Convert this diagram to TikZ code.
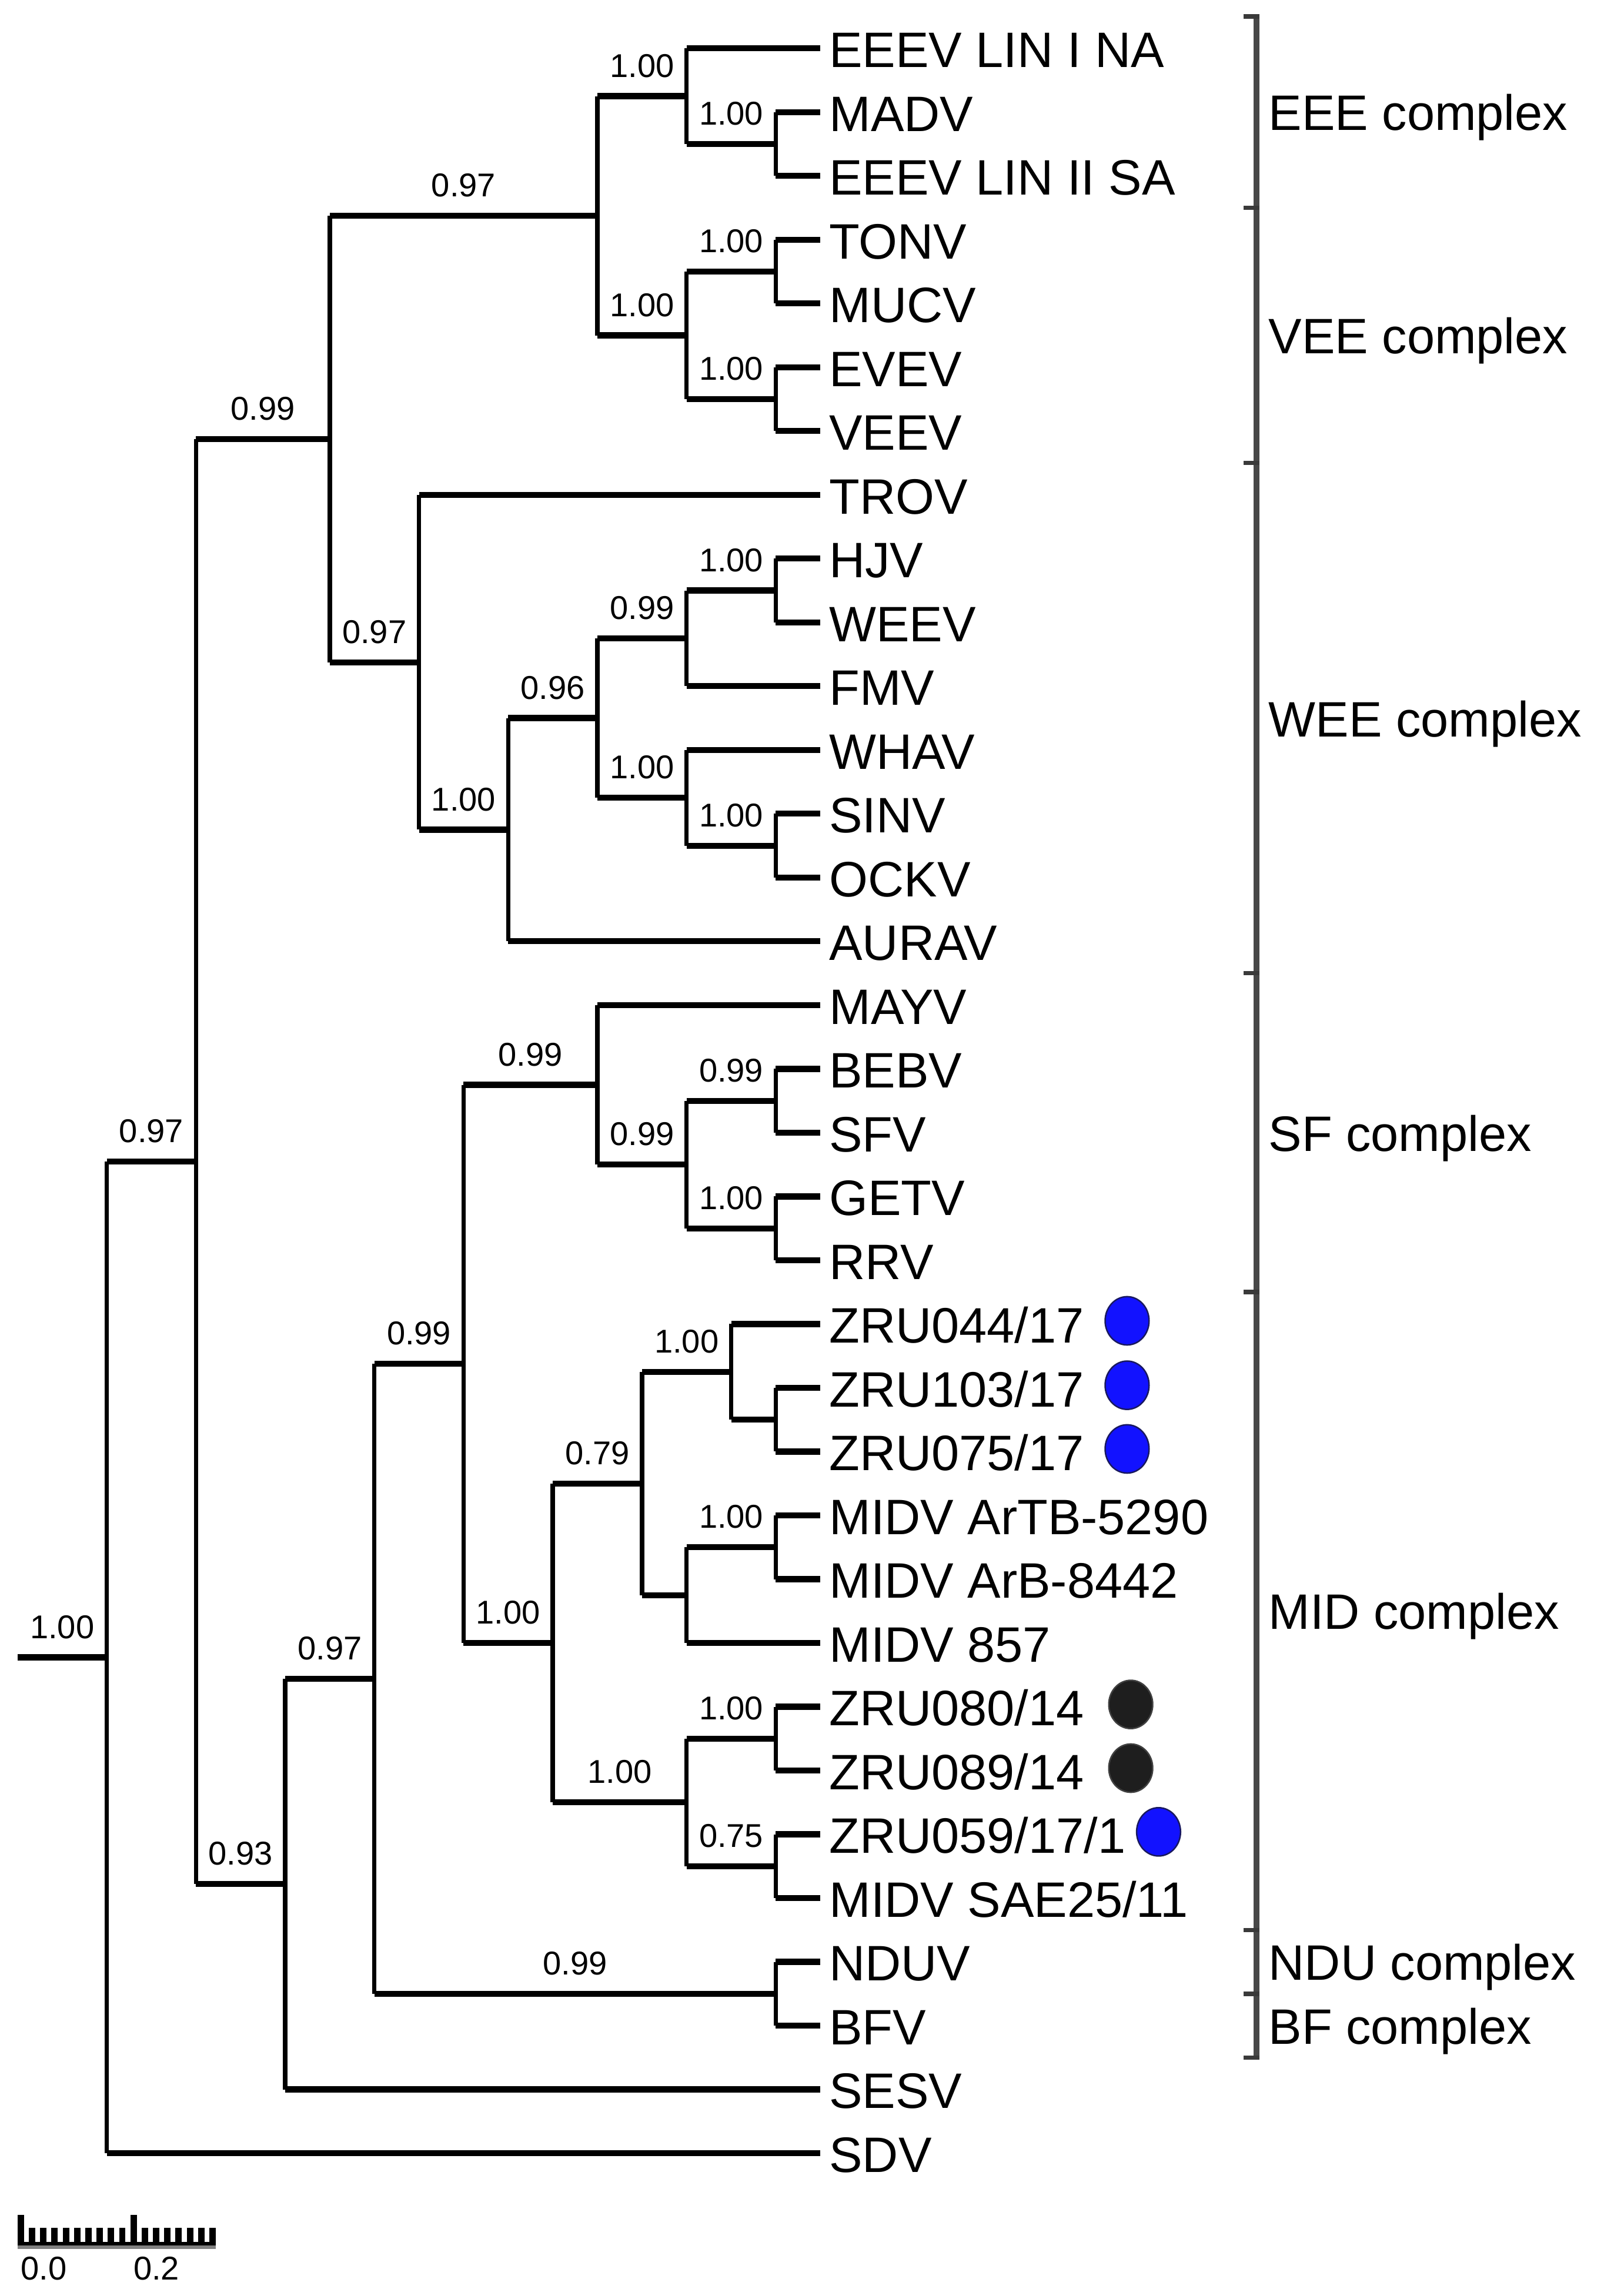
\documentclass[tikz,border=0pt]{standalone}
\usepackage{fontspec}
\setmainfont{Liberation Sans}
\usetikzlibrary{shapes.geometric}
\definecolor{dotblue}{RGB}{18,18,255}
\definecolor{dotedge}{RGB}{25,25,95}
\definecolor{dotblack}{RGB}{30,30,30}
\definecolor{brkgray}{RGB}{72,72,72}
\newcommand\PX[1]{12+30.45*(#1)}
\newcommand\PY[1]{33+43.56*(#1)}
\newcommand\clade[3]{%
  \draw[vl] (#1 |- #2) -- (#1 |- #3);
  \draw[hl] (#1 |- #2) -- (#2);
  \draw[hl] (#1 |- #3) -- (#3);}
\newcommand\inode[3]{\coordinate (#1) at ({\PX{#2}},{\PY{#3}});}
\newcommand\slab[4]{\node[suplab] (#1) at ({\PX{#2}},{\PY{#3}-13}) {#4};}
\newcommand\leafnode[2]{%
  \node[leaf] (L#1) at (566,{\PY{#1}+13}) {#2};
  \coordinate (t#1) at ({\PX{18}},{\PY{#1}});}
\tikzset{
  hl/.style={line width=4.1pt, black},
  vl/.style={line width=3.0pt, black, line cap=square},
  leaf/.style={anchor=base west, inner sep=0pt, font=\fontsize{34}{40}\selectfont},
  cplx/.style={anchor=base west, inner sep=0pt, font=\fontsize{34}{40}\selectfont},
  suplab/.style={anchor=base, inner sep=0pt, font=\fontsize{22.5}{27}\selectfont},
  brk/.style={line width=4pt, brkgray},
  brktick/.style={line width=3pt, brkgray!80!black},
  bdot/.style={ellipse, draw=dotedge, fill=dotblue, line width=1pt, minimum width=30pt, minimum height=33pt, inner sep=0pt},
  kdot/.style={ellipse, draw=black!75, fill=dotblack, line width=1pt, minimum width=30pt, minimum height=33pt, inner sep=0pt},
}
\begin{document}
\begin{tikzpicture}[x=1pt,y=-1pt]
\useasboundingbox (0,0) rectangle (1095,1568);
\fill[white] (0,0) rectangle (1095,1568);

% leaves
\leafnode{0}{EEEV LIN I NA}
\leafnode{1}{MADV}
\leafnode{2}{EEEV LIN II SA}
\leafnode{3}{TONV}
\leafnode{4}{MUCV}
\leafnode{5}{EVEV}
\leafnode{6}{VEEV}
\leafnode{7}{TROV}
\leafnode{8}{HJV}
\leafnode{9}{WEEV}
\leafnode{10}{FMV}
\leafnode{11}{WHAV}
\leafnode{12}{SINV}
\leafnode{13}{OCKV}
\leafnode{14}{AURAV}
\leafnode{15}{MAYV}
\leafnode{16}{BEBV}
\leafnode{17}{SFV}
\leafnode{18}{GETV}
\leafnode{19}{RRV}
\leafnode{20}{ZRU044/17}
\leafnode{21}{ZRU103/17}
\leafnode{22}{ZRU075/17}
\leafnode{23}{MIDV ArTB-5290}
\leafnode{24}{MIDV ArB-8442}
\leafnode{25}{MIDV 857}
\leafnode{26}{ZRU080/14}
\leafnode{27}{ZRU089/14}
\leafnode{28}{ZRU059/17/1}
\leafnode{29}{MIDV SAE25/11}
\leafnode{30}{NDUV}
\leafnode{31}{BFV}
\leafnode{32}{SESV}
\leafnode{33}{SDV}

% internal nodes
\inode{r}{2}{25.2265625}
\inode{r0}{0}{25.2265625}
\inode{n1}{4}{17.453125}
\inode{n2}{7}{6.125}
\inode{n4}{13}{2.625}
\inode{n6}{15}{0.75}
\inode{n8}{17}{1.5}
\inode{n7}{15}{4.5}
\inode{n9}{17}{3.5}
\inode{n10}{17}{5.5}
\inode{n5}{9}{9.625}
\inode{n11}{11}{12.25}
\inode{n12}{13}{10.5}
\inode{n13}{15}{9.25}
\inode{n15}{17}{8.5}
\inode{n14}{15}{11.75}
\inode{n16}{17}{12.5}
\inode{n3}{6}{28.78125}
\inode{n17}{8}{25.5625}
\inode{n19}{17}{30.5}
\inode{n18}{10}{20.625}
\inode{n20}{13}{16.25}
\inode{n22}{15}{17.5}
\inode{n23}{17}{16.5}
\inode{n24}{17}{18.5}
\inode{n21}{12}{25}
\inode{n25}{14}{22.5}
\inode{n27}{16}{20.75}
\inode{n29}{17}{21.5}
\inode{n28}{15}{24.25}
\inode{n30}{17}{23.5}
\inode{n26}{15}{27.5}
\inode{n31}{17}{26.5}
\inode{n32}{17}{28.5}

% branches
\draw[hl] (r0) -- (r);
\clade{r}{n1}{t33}
\clade{n1}{n2}{n3}
\clade{n2}{n4}{n5}
\clade{n4}{n6}{n7}
\clade{n6}{t0}{n8}
\clade{n8}{t1}{t2}
\clade{n7}{n9}{n10}
\clade{n9}{t3}{t4}
\clade{n10}{t5}{t6}
\clade{n5}{t7}{n11}
\clade{n11}{n12}{t14}
\clade{n12}{n13}{n14}
\clade{n13}{n15}{t10}
\clade{n15}{t8}{t9}
\clade{n14}{t11}{n16}
\clade{n16}{t12}{t13}
\clade{n3}{n17}{t32}
\clade{n17}{n18}{n19}
\clade{n19}{t30}{t31}
\clade{n18}{n20}{n21}
\clade{n20}{t15}{n22}
\clade{n22}{n23}{n24}
\clade{n23}{t16}{t17}
\clade{n24}{t18}{t19}
\clade{n21}{n25}{n26}
\clade{n25}{n27}{n28}
\clade{n27}{t20}{n29}
\clade{n29}{t21}{t22}
\clade{n28}{n30}{t25}
\clade{n30}{t23}{t24}
\clade{n26}{n31}{n32}
\clade{n31}{t26}{t27}
\clade{n32}{t28}{t29}

% support values
\slab{sr}{1}{25.2265625}{1.00}
\slab{s1}{3}{17.453125}{0.97}
\slab{s2}{5.5}{6.125}{0.99}
\slab{s4}{10}{2.625}{0.97}
\slab{s6}{14}{0.75}{1.00}
\slab{s8}{16}{1.5}{1.00}
\slab{s7}{14}{4.5}{1.00}
\slab{s9}{16}{3.5}{1.00}
\slab{s10}{16}{5.5}{1.00}
\slab{s5}{8}{9.625}{0.97}
\slab{s11}{10}{12.25}{1.00}
\slab{s12}{12}{10.5}{0.96}
\slab{s13}{14}{9.25}{0.99}
\slab{s15}{16}{8.5}{1.00}
\slab{s14}{14}{11.75}{1.00}
\slab{s16}{16}{12.5}{1.00}
\slab{s3}{5}{28.78125}{0.93}
\slab{s17}{7}{25.5625}{0.97}
\slab{s19}{12.5}{30.5}{0.99}
\slab{s18}{9}{20.625}{0.99}
\slab{s20}{11.5}{16.25}{0.99}
\slab{s22}{14}{17.5}{0.99}
\slab{s23}{16}{16.5}{0.99}
\slab{s24}{16}{18.5}{1.00}
\slab{s21}{11}{25}{1.00}
\slab{s25}{13}{22.5}{0.79}
\slab{s27}{15}{20.75}{1.00}
\slab{s30}{16}{23.5}{1.00}
\slab{s26}{13.5}{27.5}{1.00}
\slab{s31}{16}{26.5}{1.00}
\slab{s32}{16}{28.5}{0.75}

% sample dots
\node[bdot] (d1) at (769.5,902) {};
\node[bdot] (d2) at (769.5,946) {};
\node[bdot] (d3) at (769.5,989.5) {};
\node[kdot] (d4) at (772,1164) {};
\node[kdot] (d5) at (772,1207.5) {};
\node[bdot] (d6) at (791,1251) {};

% complex brackets
\draw[brk] (858,11.2) -- (858,1405.1);
\foreach \yy in {11.2,141.9,316.1,664.6,882.4,1318,1361.6,1405.1}
  \draw[brktick] (849,\yy) -- (860,\yy);
\node[cplx] (cEEE) at (866,89) {EEE complex};
\node[cplx] (cVEE) at (866,241.5) {VEE complex};
\node[cplx] (cWEE) at (866,503) {WEE complex};
\node[cplx] (cSF) at (866,786) {SF complex};
\node[cplx] (cMID) at (866,1112.7) {MID complex};
\node[cplx] (cNDU) at (866,1352.3) {NDU complex};
\node[cplx] (cBF) at (866,1395.9) {BF complex};

% scale bar
\fill[black] (12,1531) rectangle (147.3,1533.6);
\fill[black!50] (12,1533.6) rectangle (147.3,1536);
\foreach \i in {0,...,17}
  \fill[black] ({12+7.7*\i},1521.6) rectangle ++(4.4,10);
\fill[black] (12,1512.6) rectangle ++(4.4,19);
\fill[black] ({12+77},1512.6) rectangle ++(4.4,19);
\node[suplab, anchor=base west] (sb0) at (14,1557) {0.0};
\node[suplab, anchor=base west] (sb2) at (91,1557) {0.2};
\end{tikzpicture}
\end{document}
